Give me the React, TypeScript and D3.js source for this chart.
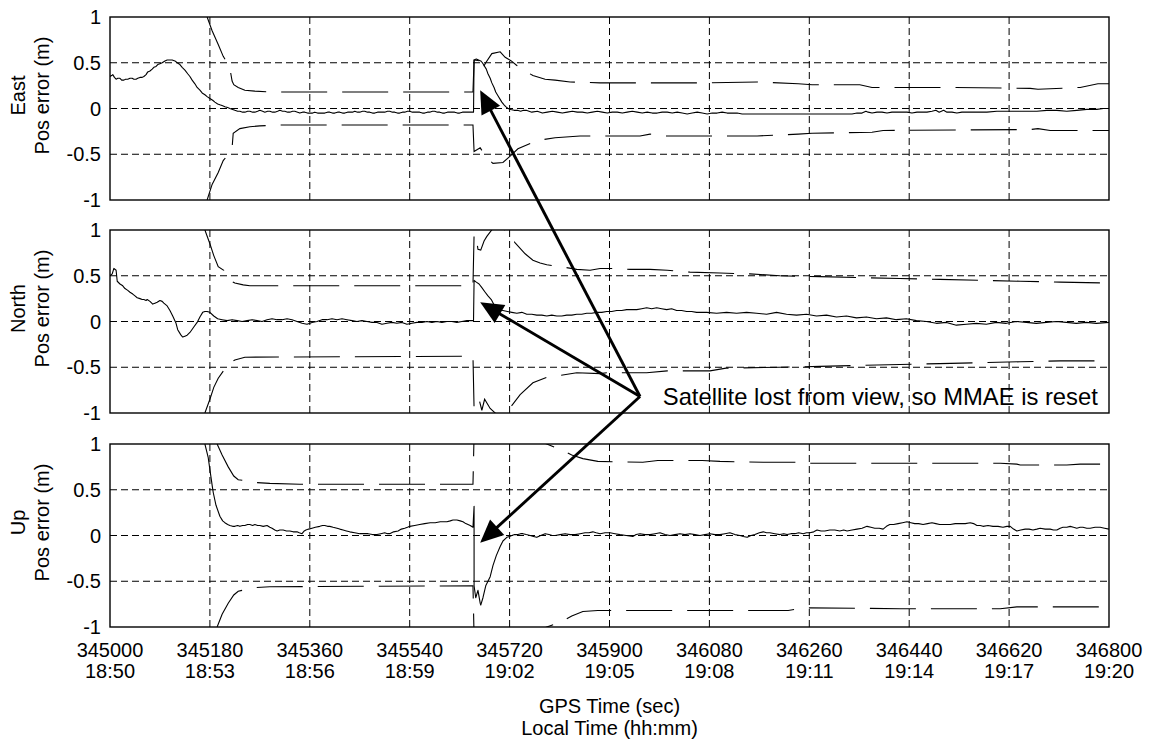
import React from "react";
import * as d3 from "d3";

// GPS seconds at the left edge of the record
const T0 = 345000;

const gpsTicks = [345000, 345180, 345360, 345540, 345720, 345900, 346080, 346260, 346440, 346620, 346800];
const localTimes = ["18:50", "18:53", "18:56", "18:59", "19:02", "19:05", "19:08", "19:11", "19:14", "19:17", "19:20"];
const errTicks = [-1, -0.5, 0, 0.5, 1];
const errTickLabels = ["-1", "-0.5", "0", "0.5", "1"];
const axisNames = ["East", "North", "Up"];

// Position error, [seconds after T0, metres]
const eastError: [number, number][] = [
  [0, 0.35], [3, 0.36], [5, 0.37], [8, 0.34], [11, 0.32], [14, 0.33], [18, 0.33], [21, 0.31], [25, 0.31], [28, 0.32],
  [32, 0.32], [36, 0.33], [40, 0.33], [43, 0.32], [47, 0.32], [50, 0.33], [54, 0.34], [58, 0.34], [61, 0.35], [65, 0.37],
  [68, 0.4], [72, 0.41], [76, 0.43], [79, 0.45], [83, 0.46], [86, 0.48], [90, 0.49], [94, 0.5], [99, 0.52], [103, 0.53],
  [108, 0.53], [112, 0.53], [117, 0.52], [121, 0.5], [126, 0.48], [130, 0.45], [135, 0.42], [140, 0.38], [144, 0.35],
  [148, 0.31], [153, 0.27], [157, 0.23], [162, 0.2], [166, 0.17], [171, 0.15], [175, 0.13], [180, 0.11], [185, 0.09],
  [189, 0.07], [194, 0.05], [198, 0.04], [203, 0.03], [207, 0.02], [212, 0.01], [216, 0.0], [221, -0.01], [225, -0.02],
  [230, -0.03], [234, -0.03], [239, -0.04], [243, -0.04], [248, -0.03], [252, -0.03], [257, -0.04], [261, -0.04],
  [266, -0.03], [270, -0.02], [275, -0.03], [279, -0.04], [284, -0.03], [288, -0.03], [293, -0.04], [297, -0.04],
  [302, -0.03], [306, -0.02], [311, -0.03], [315, -0.03], [320, -0.04], [324, -0.04], [329, -0.03], [333, -0.03],
  [338, -0.04], [342, -0.05], [347, -0.04], [351, -0.04], [356, -0.05], [360, -0.05], [365, -0.05], [369, -0.04],
  [374, -0.05], [378, -0.05], [383, -0.05], [387, -0.05], [392, -0.04], [396, -0.04], [401, -0.05], [405, -0.05],
  [410, -0.04], [414, -0.04], [419, -0.05], [423, -0.05], [428, -0.04], [432, -0.04], [437, -0.04], [441, -0.03],
  [446, -0.04], [450, -0.04], [455, -0.03], [459, -0.03], [464, -0.04], [468, -0.04], [473, -0.05], [477, -0.05],
  [482, -0.04], [486, -0.04], [491, -0.04], [495, -0.04], [500, -0.03], [504, -0.03], [509, -0.04], [513, -0.04],
  [518, -0.05], [522, -0.05], [527, -0.04], [531, -0.04], [536, -0.03], [540, -0.03], [545, -0.04], [549, -0.04],
  [554, -0.04], [558, -0.04], [563, -0.05], [567, -0.05], [572, -0.04], [576, -0.04], [581, -0.03], [585, -0.03],
  [590, -0.04], [594, -0.04], [599, -0.05], [603, -0.05], [608, -0.04], [612, -0.04], [617, -0.04], [621, -0.04],
  [626, -0.05], [630, -0.05], [635, -0.04], [639, -0.04], [644, -0.04], [648, -0.04], [652, -0.04], [655, -0.04],
  [656, 0.53], [660, 0.54], [664, 0.53], [668, 0.52], [671, 0.5], [674, 0.47], [678, 0.43], [681, 0.38], [685, 0.33],
  [688, 0.28], [692, 0.23], [695, 0.18], [699, 0.14], [703, 0.1], [706, 0.07], [710, 0.04], [713, 0.02], [717, 0.0],
  [722, -0.01], [728, -0.02], [734, -0.02], [740, -0.03], [745, -0.02], [750, -0.02], [755, -0.03], [760, -0.04],
  [770, -0.03], [779, -0.05], [788, -0.04], [797, -0.03], [806, -0.04], [815, -0.05], [824, -0.04], [833, -0.03],
  [842, -0.04], [851, -0.04], [860, -0.05], [869, -0.04], [878, -0.03], [887, -0.04], [896, -0.05], [905, -0.04],
  [914, -0.04], [923, -0.05], [932, -0.04], [941, -0.03], [950, -0.04], [959, -0.05], [968, -0.04], [977, -0.05],
  [986, -0.05], [995, -0.04], [1004, -0.04], [1013, -0.05], [1022, -0.04], [1031, -0.05], [1040, -0.06], [1049, -0.05],
  [1058, -0.04], [1067, -0.05], [1076, -0.06], [1085, -0.05], [1094, -0.05], [1103, -0.04], [1112, -0.05],
  [1121, -0.05], [1130, -0.05], [1139, -0.06], [1148, -0.06], [1157, -0.06], [1166, -0.06], [1175, -0.06],
  [1184, -0.06], [1193, -0.06], [1202, -0.06], [1211, -0.06], [1220, -0.06], [1229, -0.06], [1238, -0.06],
  [1247, -0.06], [1256, -0.06], [1265, -0.06], [1274, -0.06], [1283, -0.06], [1292, -0.06], [1301, -0.06],
  [1310, -0.06], [1319, -0.06], [1328, -0.06], [1337, -0.06], [1346, -0.05], [1355, -0.05], [1362, -0.03],
  [1366, -0.04], [1373, -0.05], [1382, -0.04], [1391, -0.04], [1400, -0.05], [1409, -0.04], [1418, -0.04],
  [1427, -0.04], [1436, -0.04], [1445, -0.05], [1454, -0.04], [1463, -0.04], [1472, -0.04], [1481, -0.03],
  [1488, -0.02], [1494, -0.04], [1502, -0.02], [1508, -0.04], [1517, -0.04], [1526, -0.05], [1535, -0.04],
  [1544, -0.04], [1553, -0.04], [1562, -0.04], [1571, -0.04], [1580, -0.04], [1598, -0.03], [1616, -0.03],
  [1634, -0.03], [1652, -0.03], [1670, -0.03], [1688, -0.02], [1706, -0.02], [1724, -0.03], [1742, -0.02],
  [1760, -0.01], [1778, -0.01], [1790, 0.0], [1800, 0.0],
];

const eastUpper: [number, number][] = [
  [175, 1.0], [184, 0.85], [195, 0.7], [204, 0.57], [211, 0.5], [216, 0.44], [220, 0.3], [223, 0.26], [231, 0.23],
  [243, 0.2], [261, 0.19], [288, 0.18], [654, 0.18], [656, 0.53], [668, 0.52], [670, 0.42], [677, 0.5], [688, 0.6],
  [703, 0.62], [712, 0.56], [723, 0.52], [733, 0.47], [748, 0.41], [762, 0.36], [784, 0.32], [802, 0.31], [829, 0.29],
  [883, 0.28], [973, 0.28], [1063, 0.28], [1166, 0.29], [1240, 0.27], [1265, 0.26], [1351, 0.26], [1373, 0.23],
  [1514, 0.23], [1658, 0.22], [1672, 0.21], [1748, 0.23], [1780, 0.27], [1800, 0.27],
];

const eastLower: [number, number][] = [
  [175, -1.0], [184, -0.83], [195, -0.7], [204, -0.57], [213, -0.5], [220, -0.43], [222, -0.27], [234, -0.22],
  [252, -0.2], [270, -0.19], [306, -0.18], [654, -0.18], [656, -0.47], [667, -0.43], [679, -0.54], [690, -0.6],
  [708, -0.59], [721, -0.52], [735, -0.44], [769, -0.35], [802, -0.32], [847, -0.3], [955, -0.3], [973, -0.28],
  [991, -0.3], [1166, -0.3], [1240, -0.28], [1265, -0.27], [1373, -0.26], [1393, -0.24], [1658, -0.23],
  [1672, -0.22], [1694, -0.24], [1800, -0.24],
];

const northError: [number, number][] = [
  [0, 0.5], [4, 0.52], [7, 0.58], [11, 0.56], [13, 0.44], [18, 0.41], [23, 0.39], [27, 0.36], [32, 0.34], [36, 0.32],
  [41, 0.3], [45, 0.28], [49, 0.26], [54, 0.25], [58, 0.24], [61, 0.24], [65, 0.23], [67, 0.24], [72, 0.22], [77, 0.19],
  [81, 0.2], [85, 0.21], [90, 0.23], [94, 0.22], [97, 0.2], [103, 0.17], [108, 0.12], [113, 0.06], [119, -0.02],
  [122, -0.09], [126, -0.13], [128, -0.15], [131, -0.17], [135, -0.16], [139, -0.15], [144, -0.12], [151, -0.06],
  [157, -0.01], [162, 0.05], [167, 0.1], [171, 0.11], [175, 0.11], [180, 0.1], [187, 0.06], [194, 0.03], [202, 0.02],
  [211, 0.01], [220, 0.02], [229, 0.01], [238, 0.0], [247, 0.01], [256, 0.02], [265, 0.01], [274, 0.0], [283, 0.02],
  [292, 0.03], [301, 0.02], [310, 0.02], [319, 0.03], [328, 0.02], [337, 0.0], [346, -0.02], [355, -0.03],
  [364, -0.01], [373, 0.0], [382, 0.02], [391, 0.02], [400, 0.03], [409, 0.02], [418, 0.03], [427, 0.02],
  [436, 0.01], [445, 0.0], [454, 0.01], [463, 0.0], [472, -0.01], [481, -0.01], [490, -0.03], [499, -0.02],
  [508, -0.01], [517, -0.02], [526, -0.01], [535, -0.03], [544, -0.02], [553, -0.01], [562, -0.01], [571, 0.0],
  [580, -0.01], [589, 0.0], [598, -0.01], [607, 0.0], [616, 0.0], [625, -0.01], [634, 0.0], [643, 0.01], [650, 0.01],
  [655, 0.01], [656, 0.45], [660, 0.43], [665, 0.41], [670, 0.37], [676, 0.32], [681, 0.28], [687, 0.24], [693, 0.17],
  [700, 0.13], [708, 0.12], [716, 0.11], [724, 0.1], [733, 0.09], [742, 0.1], [751, 0.08], [760, 0.08], [769, 0.07],
  [778, 0.07], [787, 0.06], [796, 0.07], [805, 0.06], [814, 0.06], [823, 0.07], [832, 0.07], [841, 0.08], [850, 0.08],
  [859, 0.09], [868, 0.09], [877, 0.1], [886, 0.1], [895, 0.11], [904, 0.11], [913, 0.12], [922, 0.12], [931, 0.13],
  [940, 0.13], [949, 0.13], [958, 0.14], [967, 0.15], [976, 0.14], [985, 0.15], [994, 0.14], [1003, 0.13],
  [1012, 0.14], [1021, 0.12], [1030, 0.12], [1039, 0.11], [1048, 0.11], [1057, 0.1], [1075, 0.1], [1093, 0.09],
  [1111, 0.1], [1129, 0.09], [1147, 0.1], [1165, 0.09], [1183, 0.08], [1201, 0.1], [1219, 0.08], [1237, 0.07],
  [1255, 0.08], [1273, 0.06], [1291, 0.07], [1309, 0.05], [1327, 0.06], [1345, 0.04], [1363, 0.05], [1381, 0.03],
  [1399, 0.04], [1417, 0.02], [1435, 0.03], [1453, 0.01], [1471, 0.0], [1489, -0.02], [1507, -0.01], [1525, -0.04],
  [1543, -0.03], [1561, -0.02], [1579, -0.03], [1597, -0.01], [1615, -0.02], [1633, 0.0], [1651, -0.01],
  [1669, -0.02], [1687, -0.01], [1705, 0.0], [1723, -0.01], [1741, -0.02], [1759, -0.01], [1777, -0.02], [1800, -0.01],
];

const northUpper: [number, number][] = [
  [171, 1.0], [180, 0.85], [187, 0.72], [195, 0.6], [205, 0.56], [213, 0.46], [225, 0.42], [240, 0.4], [252, 0.39],
  [654, 0.39], [656, 0.95], [659, 0.95], [663, 0.79], [668, 0.78], [674, 0.88], [679, 0.93], [694, 1.05], [712, 1.0],
  [730, 0.86], [748, 0.74], [762, 0.67], [775, 0.64], [787, 0.62], [811, 0.6], [841, 0.57], [865, 0.56], [883, 0.58],
  [901, 0.58], [937, 0.57], [973, 0.57], [1004, 0.56], [1045, 0.54], [1099, 0.53], [1153, 0.52], [1207, 0.5],
  [1279, 0.49], [1351, 0.48], [1423, 0.47], [1495, 0.46], [1568, 0.45], [1640, 0.44], [1712, 0.43], [1800, 0.42],
];

const northLower: [number, number][] = [
  [171, -1.0], [180, -0.85], [187, -0.72], [195, -0.62], [209, -0.5], [213, -0.46], [225, -0.42], [243, -0.39],
  [654, -0.38], [656, -0.95], [659, -0.92], [665, -0.85], [670, -0.97], [675, -0.85], [685, -0.95], [703, -1.05],
  [715, -0.99], [739, -0.8], [762, -0.67], [787, -0.61], [811, -0.59], [841, -0.56], [883, -0.57], [895, -0.56],
  [967, -0.56], [1004, -0.54], [1081, -0.54], [1110, -0.51], [1207, -0.5], [1279, -0.49], [1351, -0.48],
  [1423, -0.47], [1495, -0.46], [1568, -0.45], [1640, -0.44], [1712, -0.43], [1800, -0.43],
];

const upError: [number, number][] = [
  [171, 1.0], [177, 0.85], [180, 0.72], [184, 0.55], [186, 0.47], [191, 0.33], [198, 0.21], [203, 0.16], [207, 0.14],
  [212, 0.12], [216, 0.11], [221, 0.1], [225, 0.1], [230, 0.11], [234, 0.1], [239, 0.11], [243, 0.11], [248, 0.12],
  [252, 0.12], [257, 0.11], [261, 0.12], [266, 0.11], [270, 0.11], [276, 0.1], [283, 0.11], [288, 0.09], [292, 0.08],
  [297, 0.06], [301, 0.05], [306, 0.06], [312, 0.06], [318, 0.05], [324, 0.05], [330, 0.04], [337, 0.04], [341, 0.03],
  [346, 0.02], [350, 0.05], [353, 0.06], [358, 0.07], [364, 0.08], [370, 0.09], [378, 0.1], [383, 0.11], [387, 0.11],
  [392, 0.1], [396, 0.1], [402, 0.09], [409, 0.08], [414, 0.07], [420, 0.06], [426, 0.05], [432, 0.04], [441, 0.03],
  [450, 0.02], [458, 0.02], [465, 0.02], [473, 0.01], [481, 0.01], [488, 0.02], [495, 0.03], [500, 0.02], [504, 0.02],
  [511, 0.04], [519, 0.05], [525, 0.07], [531, 0.08], [536, 0.09], [540, 0.1], [549, 0.11], [558, 0.12], [567, 0.13],
  [577, 0.14], [586, 0.14], [595, 0.15], [601, 0.15], [607, 0.15], [613, 0.16], [618, 0.17], [625, 0.17], [631, 0.16],
  [636, 0.15], [641, 0.13], [645, 0.12], [649, 0.11], [654, 0.09], [656, 0.32], [656, -0.55], [659, -0.68],
  [663, -0.6], [667, -0.74], [668, -0.76], [672, -0.68], [677, -0.55], [681, -0.5], [685, -0.45], [690, -0.33],
  [696, -0.22], [703, -0.12], [708, -0.06], [715, -0.02], [720, -0.01], [724, 0.0], [729, 0.01], [735, 0.01],
  [740, 0.02], [744, 0.02], [750, 0.01], [757, 0.0], [763, -0.01], [769, -0.02], [776, 0.0], [784, 0.02], [791, 0.01],
  [797, 0.0], [802, 0.0], [811, 0.01], [820, 0.02], [829, 0.01], [838, 0.01], [847, 0.02], [856, 0.03], [863, 0.03],
  [870, 0.04], [876, 0.03], [883, 0.02], [892, 0.03], [901, 0.03], [910, 0.02], [919, 0.01], [930, 0.0], [942, -0.01],
  [948, 0.01], [955, 0.02], [964, 0.01], [973, 0.01], [982, 0.02], [991, 0.03], [1000, 0.01], [1009, 0.0],
  [1018, 0.01], [1027, 0.02], [1036, 0.01], [1045, 0.02], [1054, 0.01], [1063, 0.0], [1072, 0.01], [1081, 0.02],
  [1090, 0.01], [1099, 0.01], [1108, 0.02], [1117, 0.03], [1126, 0.01], [1135, 0.0], [1141, -0.01], [1148, -0.02],
  [1155, 0.0], [1162, 0.01], [1170, 0.03], [1177, 0.04], [1183, 0.03], [1189, 0.03], [1198, 0.02], [1207, 0.01],
  [1214, 0.02], [1220, 0.01], [1227, 0.02], [1234, 0.02], [1241, 0.03], [1249, 0.02], [1255, 0.03], [1261, 0.03],
  [1268, 0.04], [1274, 0.06], [1281, 0.05], [1288, 0.05], [1297, 0.06], [1306, 0.06], [1315, 0.05], [1322, 0.06],
  [1328, 0.05], [1337, 0.06], [1346, 0.07], [1355, 0.08], [1364, 0.1], [1371, 0.09], [1378, 0.08], [1386, 0.08],
  [1393, 0.07], [1399, 0.1], [1405, 0.12], [1412, 0.12], [1420, 0.13], [1428, 0.14], [1436, 0.15], [1443, 0.14],
  [1450, 0.13], [1457, 0.13], [1465, 0.12], [1473, 0.13], [1481, 0.14], [1488, 0.13], [1495, 0.12], [1505, 0.12],
  [1514, 0.12], [1523, 0.13], [1532, 0.13], [1541, 0.13], [1550, 0.14], [1556, 0.13], [1562, 0.11], [1568, 0.11],
  [1573, 0.1], [1582, 0.11], [1591, 0.1], [1600, 0.1], [1609, 0.09], [1616, 0.1], [1622, 0.1], [1628, 0.07],
  [1634, 0.05], [1641, 0.06], [1649, 0.07], [1656, 0.07], [1663, 0.06], [1670, 0.07], [1676, 0.08], [1685, 0.07],
  [1694, 0.07], [1700, 0.06], [1706, 0.06], [1712, 0.08], [1717, 0.09], [1724, 0.09], [1730, 0.1], [1736, 0.09],
  [1742, 0.08], [1748, 0.09], [1753, 0.09], [1760, 0.08], [1766, 0.08], [1775, 0.09], [1784, 0.09], [1792, 0.08],
  [1800, 0.07],
];

const upUpper: [number, number][] = [
  [193, 1.0], [202, 0.88], [213, 0.75], [223, 0.65], [231, 0.61], [243, 0.6], [258, 0.58], [288, 0.57], [342, 0.56],
  [654, 0.56], [656, 1.1], [703, 1.2], [787, 1.0], [811, 0.94], [832, 0.88], [852, 0.84], [879, 0.81], [960, 0.8],
  [987, 0.82], [1067, 0.82], [1099, 0.81], [1177, 0.8], [1243, 0.8], [1249, 0.79], [1423, 0.79], [1604, 0.79],
  [1634, 0.78], [1640, 0.77], [1724, 0.77], [1748, 0.78], [1800, 0.78],
];

const upLower: [number, number][] = [
  [193, -1.0], [202, -0.86], [213, -0.74], [223, -0.65], [231, -0.61], [258, -0.57], [288, -0.56], [654, -0.55],
  [656, -1.1], [703, -1.2], [787, -1.0], [811, -0.95], [832, -0.88], [852, -0.83], [879, -0.82], [1150, -0.82],
  [1222, -0.82], [1249, -0.79], [1423, -0.8], [1604, -0.8], [1634, -0.78], [1800, -0.78],
];

// Callout: the arrows fan out from one point in the North panel
const calloutOrigin = { t: 345955, v: -0.82 };
const calloutTargets = [
  { panel: 0, t: 345667, v: 0.2 },
  { panel: 1, t: 345667, v: 0.21 },
  { panel: 2, t: 345667, v: -0.08 },
];
const calloutText = "Satellite lost from view, so MMAE is reset";

const W = 1149;
const H = 750;
const plotLeft = 110;
const plotRight = 1109;
const panelTops = [17, 230, 444];
const panelHeight = 183;
const FONT = "'Liberation Sans', Arial, Helvetica, sans-serif";

const panels = [
  { error: eastError, upper: eastUpper, lower: eastLower },
  { error: northError, upper: northUpper, lower: northLower },
  { error: upError, upper: upUpper, lower: upLower },
];

export default function App() {
  const x = d3.scaleLinear().domain([gpsTicks[0], gpsTicks[gpsTicks.length - 1]]).range([plotLeft, plotRight]);
  const yScales = panelTops.map((top) =>
    d3.scaleLinear().domain([-1, 1]).range([top + panelHeight, top])
  );

  const arrowHead = (tx: number, ty: number, fx: number, fy: number) => {
    const dx = tx - fx;
    const dy = ty - fy;
    const len = Math.hypot(dx, dy);
    const ux = dx / len;
    const uy = dy / len;
    const L = 23;
    const hw = 10.5;
    const bx = tx - ux * L;
    const by = ty - uy * L;
    return `${tx},${ty} ${bx - uy * hw},${by + ux * hw} ${bx + uy * hw},${by - ux * hw}`;
  };

  const ox = x(calloutOrigin.t);
  const oy = yScales[1](calloutOrigin.v);

  return (
    <svg
      width={W}
      height={H}
      viewBox={`0 0 ${W} ${H}`}
      style={{ position: "absolute", left: 0, top: 0, background: "#fff" }}
      fontFamily={FONT}
    >
      <rect x={0} y={0} width={W} height={H} fill="#fff" />
      <defs>
        {panelTops.map((top, i) => (
          <clipPath id={`panel-clip-${i}`} key={i}>
            <rect x={plotLeft} y={top} width={plotRight - plotLeft} height={panelHeight} />
          </clipPath>
        ))}
      </defs>
      {panels.map((p, i) => {
        const y = yScales[i];
        const top = panelTops[i];
        const line = d3
          .line<[number, number]>()
          .x((d) => x(T0 + d[0]))
          .y((d) => y(d[1]));
        const mid = top + panelHeight / 2 - 13;
        return (
          <g key={i}>
            {/* grid */}
            {gpsTicks.slice(1, -1).map((t) => (
              <line
                key={`v${t}`}
                x1={x(t)}
                x2={x(t)}
                y1={top}
                y2={top + panelHeight}
                stroke="#000"
                strokeWidth={1}
                strokeDasharray="7 4"
              />
            ))}
            {errTicks.slice(1, -1).map((v) => (
              <line
                key={`h${v}`}
                x1={plotLeft}
                x2={plotRight}
                y1={y(v)}
                y2={y(v)}
                stroke="#000"
                strokeWidth={1}
                strokeDasharray="7 4"
              />
            ))}
            <g clipPath={`url(#panel-clip-${i})`} fill="none" stroke="#000">
              <path d={line(p.upper) || ""} strokeWidth={1.1} strokeDasharray="46 15" />
              <path d={line(p.lower) || ""} strokeWidth={1.1} strokeDasharray="46 15" />
              <path d={line(p.error) || ""} strokeWidth={1.1} strokeLinejoin="round" />
            </g>
            <rect
              x={plotLeft}
              y={top}
              width={plotRight - plotLeft}
              height={panelHeight}
              fill="none"
              stroke="#000"
              strokeWidth={1.4}
            />
            {errTicks.map((v, k) => (
              <text
                key={`yl${v}`}
                x={101}
                y={y(v)}
                textAnchor="end"
                dominantBaseline="central"
                fontSize={20}
                fill="#000"
              >
                {errTickLabels[k]}
              </text>
            ))}
            <text
              transform={`translate(25,${mid}) rotate(-90)`}
              textAnchor="middle"
              fontSize={20}
              fill="#000"
            >
              {axisNames[i]}
            </text>
            <text
              transform={`translate(49,${mid}) rotate(-90)`}
              textAnchor="middle"
              fontSize={20}
              fill="#000"
            >
              Pos error (m)
            </text>
          </g>
        );
      })}

      {/* x tick labels */}
      {gpsTicks.map((t, k) => (
        <g key={`xt${t}`}>
          <text x={x(t)} y={657} textAnchor="middle" fontSize={20} fill="#000">
            {t}
          </text>
          <text x={x(t)} y={678} textAnchor="middle" fontSize={20} fill="#000">
            {localTimes[k]}
          </text>
        </g>
      ))}
      <text x={(plotLeft + plotRight) / 2} y={713} textAnchor="middle" fontSize={20} fill="#000">
        GPS Time (sec)
      </text>
      <text x={(plotLeft + plotRight) / 2} y={735} textAnchor="middle" fontSize={20} fill="#000">
        Local Time (hh:mm)
      </text>

      {/* callout */}
      {calloutTargets.map((c, k) => {
        const tx = x(c.t);
        const ty = yScales[c.panel](c.v);
        const dx = tx - ox;
        const dy = ty - oy;
        const len = Math.hypot(dx, dy);
        const ex = tx - (dx / len) * 18;
        const ey = ty - (dy / len) * 18;
        return (
          <g key={`arrow${k}`}>
            <line x1={ox} y1={oy} x2={ex} y2={ey} stroke="#000" strokeWidth={2.9} />
            <polygon points={arrowHead(tx, ty, ox, oy)} fill="#000" />
          </g>
        );
      })}
      <text x={x(345996)} y={oy + 8} fontSize={23.8} fill="#000">
        {calloutText}
      </text>
    </svg>
  );
}
